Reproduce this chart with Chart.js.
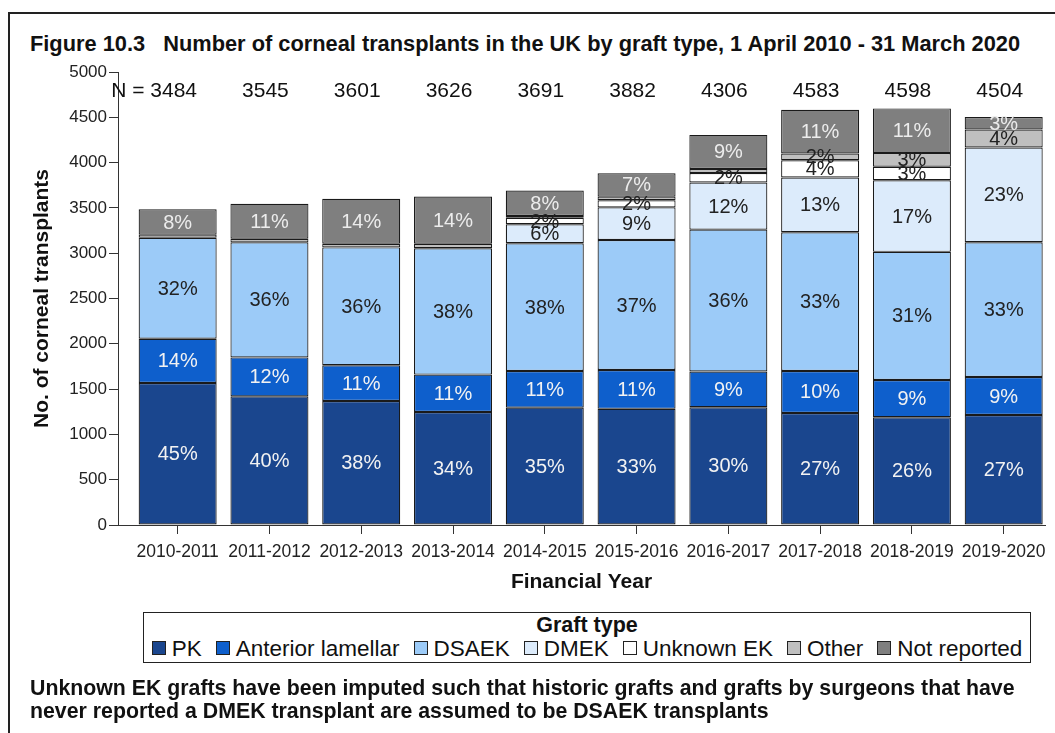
<!DOCTYPE html>
<html>
<head>
<meta charset="utf-8">
<script src="https://cdn.jsdelivr.net/npm/chart.js@4"></script>
<style>
  html,body{margin:0;padding:0;background:#fff;overflow:hidden}
  body{width:1055px;height:733px;position:relative;font-family:Arial,"Liberation Sans",sans-serif;color:#111}
  #frame{position:absolute;left:8px;top:12px;width:1100px;height:800px;border:2px solid #222;box-sizing:border-box}
  #title{position:absolute;left:30px;top:31px;font-weight:bold;font-size:21.8px;white-space:pre}
  #chart{position:absolute;left:0;top:0}
  #legend{position:absolute;left:143px;top:612px;width:888px;height:51px;border:1.5px solid #222;box-sizing:border-box;text-align:center;background:#fff}
  #legend .t{font-weight:bold;font-size:21.5px;line-height:24px;margin-top:0px}
  #legend .items{font-size:22.5px;line-height:24px;white-space:nowrap}
  #legend .it{margin:0 7px}
  #legend .sw{display:inline-block;width:12px;height:12px;border:1px solid #222;margin-right:6px;vertical-align:1px}
  #note{position:absolute;left:30px;top:677px;font-weight:bold;font-size:21.3px;line-height:23px;white-space:nowrap}
</style>
</head>
<body>
<div id="frame"></div>
<div id="title">Figure 10.3   Number of corneal transplants in the UK by graft type, 1 April 2010 - 31 March 2020</div>
<canvas id="chart" width="1055" height="733"></canvas>
<div id="legend"><div class="t">Graft type</div><div class="items" id="legendItems"></div></div>
<div id="note">Unknown EK grafts have been imputed such that historic grafts and grafts by surgeons that have<br>never reported a DMEK transplant are assumed to be DSAEK transplants</div>
<script>
// financial years and bar totals (N = ...)
const years = ['2010-2011','2011-2012','2012-2013','2013-2014','2014-2015','2015-2016','2016-2017','2017-2018','2018-2019','2019-2020'];
const totals = [3484,3545,3601,3626,3691,3882,4306,4583,4598,4504];

// graft type counts
const pk               = [1568,1420,1368,1248,1295,1282,1300,1237,1190,1214];
const anteriorLamellar = [488,430,396,412,405,428,395,463,410,420];
const dsaek            = [1115,1270,1300,1394,1410,1436,1565,1531,1415,1487];
const dmek             = [0,0,0,0,210,360,520,605,790,1045];
const unknownEk        = [0,0,0,0,70,78,105,190,150,0];
const other            = [34,40,40,50,21,40,45,75,150,200];
const notReported      = [279,385,497,522,280,258,376,482,493,138];

const seriesNames  = ['PK','Anterior lamellar','DSAEK','DMEK','Unknown EK','Other','Not reported'];
const seriesData   = [pk,anteriorLamellar,dsaek,dmek,unknownEk,other,notReported];
const seriesColors = ['#1a468e','#0e5fcc','#9ccbf8','#dcebfb','#ffffff','#bfbfbf','#7f7f7f'];
const labelColors  = ['#f2f2f2','#f2f2f2','#222','#222','#222','#222','#ececec'];

const yTicks = [0,500,1000,1500,2000,2500,3000,3500,4000,4500,5000];

// html legend
document.getElementById('legendItems').innerHTML = seriesNames.map((n,i)=>
  `<span class="it"><span class="sw" style="background:${seriesColors[i]}"></span>${n}</span>`).join('');

const FONT = 'Arial, "Liberation Sans", sans-serif';

const barLabels = {
  id:'barLabels',
  afterDatasetsDraw(chart){
    const ctx = chart.ctx;
    ctx.save();
    ctx.textAlign = 'center'; ctx.textBaseline = 'middle';
    ctx.font = '20px ' + FONT;
    chart.data.datasets.forEach((ds,di)=>{
      chart.getDatasetMeta(di).data.forEach((bar,i)=>{
        const v = ds.data[i].y;
        const pct = Math.round(v / totals[i] * 100);
        if (pct < 2) return;
        ctx.fillStyle = labelColors[di];
        ctx.fillText(pct + '%', bar.x, (bar.y + bar.base) / 2 + 1);
      });
    });
    // N = row
    ctx.font = '21px ' + FONT;
    ctx.fillStyle = '#111';
    const x = chart.scales.x, yN = chart.chartArea.top + 19;
    totals.forEach((t,i)=>{
      const cx = x.getPixelForValue(i) - 4;
      ctx.fillText(String(t), cx, yN);
      if (i === 0) { ctx.textAlign = 'right'; ctx.fillText('N = ', cx - ctx.measureText(String(t)).width/2, yN); ctx.textAlign = 'center'; }
    });
    ctx.restore();
  }
};

new Chart(document.getElementById('chart'), {
  type:'bar',
  data:{
    datasets: seriesNames.map((n,di)=>({
      label:n,
      data: seriesData[di].map((v,i)=>({x:i, y:v})),
      backgroundColor: seriesColors[di],
      borderColor:'#1a1a1a',
      borderWidth:1.2,
      borderSkipped:false,
      barPercentage:0.85,
      categoryPercentage:1
    }))
  },
  options:{
    responsive:false,
    animation:false,
    layout:{padding:{left:26, top:72, right:10, bottom:134}},
    plugins:{legend:{display:false}, tooltip:{enabled:false}},
    scales:{
      x:{
        type:'linear', stacked:true, offset:false, min:-0.65, max:9.45,
        afterBuildTicks(s){ s.ticks = years.map((_,i)=>({value:i})); },
        afterFit(s){ s.height = 74; },
        ticks:{ callback:(v)=>years[v], font:{size:17.5, family:FONT}, color:'#222', padding:8, maxRotation:0, autoSkip:false },
        grid:{ drawOnChartArea:false, drawTicks:true, tickLength:9, color:'#333', offset:false },
        border:{ display:true, color:'#333', width:1 },
        title:{ display:true, text:'Financial Year', font:{size:21, weight:'bold', family:FONT}, color:'#111' }
      },
      y:{
        stacked:true, min:0, max:5000,
        afterBuildTicks(s){ s.ticks = yTicks.map(v=>({value:v})); },
        afterFit(s){ s.width = 92; },
        ticks:{ callback:(v)=>String(v), font:{size:17, family:FONT}, color:'#222', padding:2 },
        grid:{ drawOnChartArea:false, drawTicks:true, tickLength:9, color:'#333' },
        border:{ display:true, color:'#333', width:1 },
        title:{ display:true, text:'No. of corneal transplants', font:{size:21, weight:'bold', family:FONT}, color:'#111' }
      }
    }
  },
  plugins:[barLabels]
});
</script>
</body>
</html>
